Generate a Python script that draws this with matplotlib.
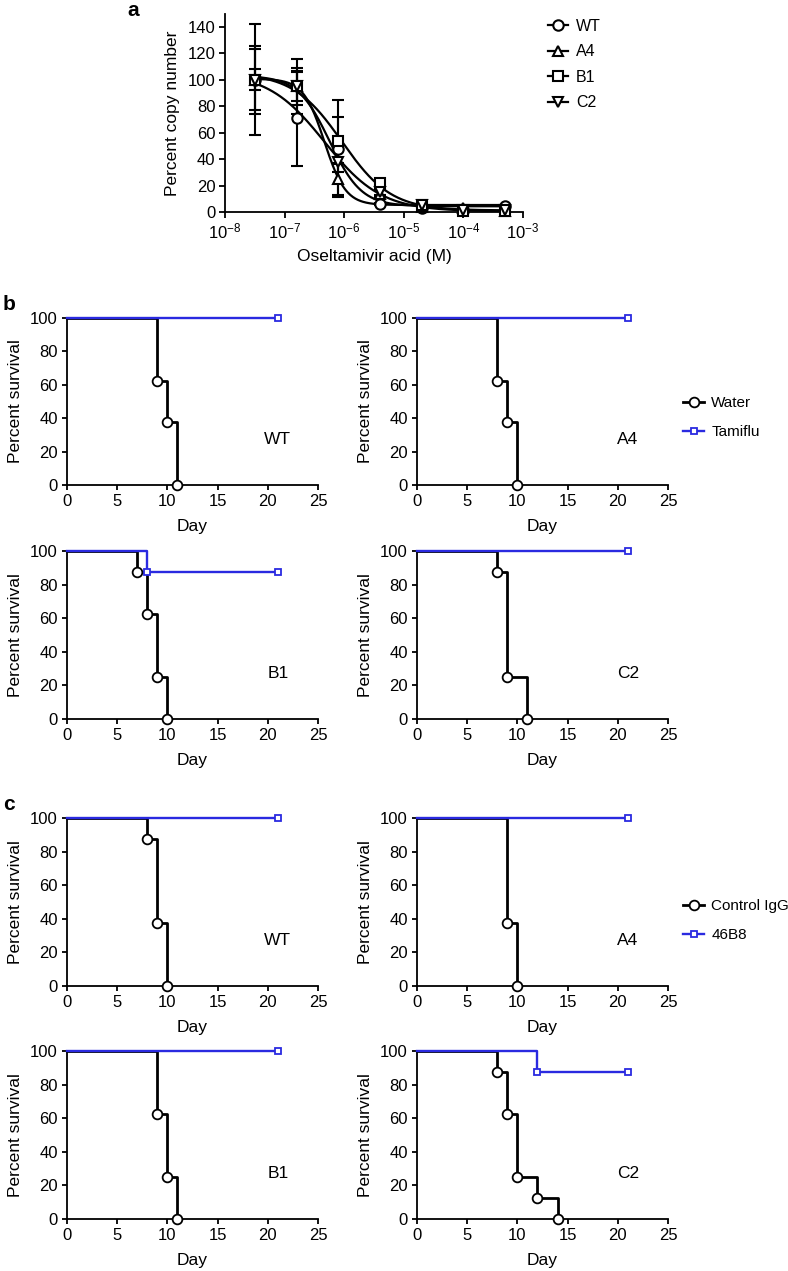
import numpy as np
import matplotlib.pyplot as plt
from matplotlib.ticker import LogLocator, NullLocator

plt.rcParams['font.family'] = ['Liberation Sans', 'DejaVu Sans']
plt.rcParams['font.size'] = 12
plt.rcParams['axes.labelsize'] = 12.5

# ---- panel a: copy number vs oseltamivir acid ----
conc = [3.2e-8, 1.6e-7, 8e-7, 4e-6, 2e-5, 1e-4, 5e-4]
strains = ['WT', 'A4', 'B1', 'C2']
markers = ['o', '^', 's', 'v']
copy_wt = [100, 71, 48, 6, 3, 1.5, 4.5]
copy_a4 = [100, 95, 25, 14, 4, 3, 1]
copy_b1 = [100, 95, 54, 22, 5, 1, 1]
copy_c2 = [100, 95, 38, 15, 5, 1.5, 1.5]
err_wt = [42, 36, 37, 1, 1, 1, 1]
err_a4 = [8, 21, 12, 3, 1, 1, 1]
err_b1 = [23, 14, 18, 3, 1, 1, 1]
err_c2 = [26, 11, 8, 2, 1, 1, 1]

# ---- panels b and c: survival (day of death -> percent surviving) ----
surv_days = {
    'b_WT': ([0, 9, 10, 11], [0, 21]),
    'b_A4': ([0, 8, 9, 10], [0, 21]),
    'b_B1': ([0, 7, 8, 9, 10], [0, 8, 21]),
    'b_C2': ([0, 8, 9, 11], [0, 21]),
    'c_WT': ([0, 8, 9, 10], [0, 21]),
    'c_A4': ([0, 9, 10], [0, 21]),
    'c_B1': ([0, 9, 10, 11], [0, 21]),
    'c_C2': ([0, 8, 9, 10, 12, 14], [0, 12, 21]),
}
surv_pct = {
    'b_WT': ([100, 62.5, 37.5, 0], [100, 100]),
    'b_A4': ([100, 62.5, 37.5, 0], [100, 100]),
    'b_B1': ([100, 87.5, 62.5, 25, 0], [100, 87.5, 87.5]),
    'b_C2': ([100, 87.5, 25, 0], [100, 100]),
    'c_WT': ([100, 87.5, 37.5, 0], [100, 100]),
    'c_A4': ([100, 37.5, 0], [100, 100]),
    'c_B1': ([100, 62.5, 25, 0], [100, 100]),
    'c_C2': ([100, 87.5, 62.5, 25, 12.5, 0], [100, 87.5, 87.5]),
}
legend_b = ['Water', 'Tamiflu']
legend_c = ['Control IgG', '46B8']

BLUE = '#2a2ae0'
W, H = 788, 1271


def fig_rect(x0, y_top, x1, y_bot):
    return [x0 / W, 1 - y_bot / H, (x1 - x0) / W, (y_bot - y_top) / H]


def hill_fit(x, y):
    # 4-parameter logistic fit by grid search on midpoint/slope
    lx = np.log10(x)
    y = np.asarray(y, float)
    cs = np.linspace(lx.min(), lx.max(), 300)
    hs = np.linspace(0.3, 5, 200)
    C, Hh = np.meshgrid(cs, hs, indexing='ij')
    S = 1 / (1 + 10 ** ((lx[None, None, :] - C[..., None]) * Hh[..., None]))
    sm = S.mean(-1)
    ym = y.mean()
    t = ((S - sm[..., None]) * (y - ym)).sum(-1) / ((S - sm[..., None]) ** 2).sum(-1)
    b = ym - t * sm
    err = (((b[..., None] + t[..., None] * S) - y) ** 2).sum(-1)
    i, j = np.unravel_index(np.argmin(err), err.shape)
    return cs[i], hs[j], b[i, j], t[i, j]


fig = plt.figure(figsize=(W / 100, H / 100), dpi=100)

# panel a
axa = fig.add_axes(fig_rect(225, 13.8, 523, 212))
series = [copy_wt, copy_a4, copy_b1, copy_c2]
errs = [err_wt, err_a4, err_b1, err_c2]
xs = np.array(conc)
xfine = np.logspace(np.log10(xs.min()), np.log10(xs.max()), 300)
for name, m, yv, ev in zip(strains, markers, series, errs):
    c, h, b, t = hill_fit(xs, yv)
    yfit = b + t / (1 + 10 ** ((np.log10(xfine) - c) * h))
    axa.plot(xfine, yfit, color='black', lw=1.6, zorder=2)
    axa.errorbar(xs, yv, yerr=ev, fmt='none', ecolor='black', elinewidth=1.5,
                 capsize=4, capthick=1.5, zorder=2)
    axa.plot(xs, yv, ls='none', marker=m, ms=7.5, mfc='white', mec='black',
             mew=1.5, zorder=3, clip_on=False)
    axa.plot([], [], color='black', lw=1.6, marker=m, ms=7.5, mfc='white',
             mec='black', mew=1.5, label=name)
axa.set_xscale('log')
axa.set_xlim(1e-8, 1e-3)
axa.set_ylim(0, 150)
axa.set_yticks(range(0, 141, 20))
axa.xaxis.set_major_locator(LogLocator(base=10, numticks=10))
axa.xaxis.set_minor_locator(NullLocator())
axa.set_xlabel('Oseltamivir acid (M)', labelpad=5)
axa.set_ylabel('Percent copy number', labelpad=5)
for s in ['top', 'right']:
    axa.spines[s].set_visible(False)
for s in ['left', 'bottom']:
    axa.spines[s].set_linewidth(1.3)
axa.tick_params(direction='out', length=4, width=1.3, pad=3)
axa.legend(loc='upper left', bbox_to_anchor=(548 / W, 1 - 19 / H),
           bbox_transform=fig.transFigure, frameon=False, borderpad=0,
           handlelength=1.25, handletextpad=0.5, labelspacing=0.65,
           borderaxespad=0, fontsize=11.5)
fig.text(133 / W, 1 - 10 / H, 'a', fontsize=15, fontweight='bold',
         ha='center', va='center')

# panels b and c
cols = [(67, 318), (417, 668)]
rows = {'b': [(318, 485), (551, 719)], 'c': [(818, 986), (1051, 1219)]}
order = ['WT', 'A4', 'B1', 'C2']
for panel, labels, leg_top in [('b', legend_b, 396), ('c', legend_c, 899)]:
    for k, strain in enumerate(order):
        (x0, x1) = cols[k % 2]
        (yt, yb) = rows[panel][k // 2]
        ax = fig.add_axes(fig_rect(x0, yt, x1, yb))
        key = panel + '_' + strain
        d0, d1 = surv_days[key]
        p0, p1 = surv_pct[key]
        ax.plot(d0, p0, drawstyle='steps-post', color='black', lw=2,
                marker='o', ms=7, mfc='white', mec='black', mew=1.3,
                markevery=slice(1, None), clip_on=False, zorder=3,
                label=labels[0])
        ax.plot(d1, p1, drawstyle='steps-post', color=BLUE, lw=1.7,
                marker='s', ms=5, mfc='white', mec=BLUE, mew=1.3,
                markevery=slice(1, None), clip_on=False, zorder=4,
                label=labels[1])
        ax.set_xlim(0, 25)
        ax.set_ylim(0, 100)
        ax.set_xticks(range(0, 26, 5))
        ax.set_yticks(range(0, 101, 20))
        ax.set_xlabel('Day', labelpad=7)
        ax.set_ylabel('Percent survival', labelpad=5)
        for s in ['top', 'right']:
            ax.spines[s].set_visible(False)
        for s in ['left', 'bottom']:
            ax.spines[s].set_linewidth(1.3)
        ax.tick_params(direction='out', length=3.5, width=1.3, pad=3)
        ax.text(21, 27, strain, ha='center', va='center', fontsize=12.5)
        if k == 1:
            ax.legend(loc='upper left', bbox_to_anchor=(683 / W, 1 - leg_top / H),
                      bbox_transform=fig.transFigure, frameon=False, borderpad=0,
                      handlelength=1.4, handletextpad=0.45, labelspacing=1.0,
                      borderaxespad=0, fontsize=11)
    fig.text(9 / W, 1 - rows[panel][0][0] / H + 13 / H, panel, fontsize=15,
             fontweight='bold', ha='center', va='center')

fig.savefig('out.png', dpi=100)
